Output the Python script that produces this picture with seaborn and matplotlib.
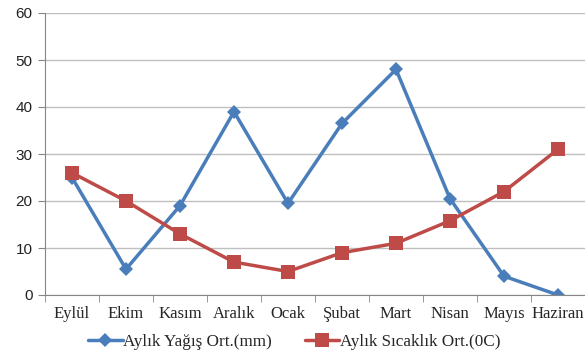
#!/usr/bin/env python3
import matplotlib
matplotlib.use('Agg')
import matplotlib.pyplot as plt
import seaborn as sns
import pandas as pd

# Data
months = ['Eylül', 'Ekim', 'Kasım', 'Aralık', 'Ocak', 'Şubat', 'Mart', 'Nisan', 'Mayıs', 'Haziran']
rain = [25, 5.5, 19, 39, 19.5, 36.5, 48, 20.5, 4, 0]
temp = [26, 20, 13, 7, 5, 9, 11, 15.8, 22, 31]
series_names = ['Aylık Yağış Ort.(mm)', 'Aylık Sıcaklık Ort.(0C)']
y_ticks = [0, 10, 20, 30, 40, 50, 60]


def build_df() -> pd.DataFrame:
    rows = []
    for name, vals in zip(series_names, [rain, temp]):
        for i, (m, v) in enumerate(zip(months, vals)):
            rows.append({'idx': i, 'month': m, 'value': v, 'series': name})
    return pd.DataFrame(rows)


def main():
    df = build_df()
    sns.set_style('white')

    fig = plt.figure(figsize=(5.85, 3.58), dpi=100)
    ax = fig.add_axes([45 / 585, (358 - 295) / 358, 540 / 585, (295 - 13) / 358])

    sns.lineplot(
        data=df, x='idx', y='value', hue='series', style='series',
        palette=['#4A7EBB', '#BE4B48'], markers=['D', 's'], dashes=False,
        markersize=7, linewidth=2.5, markeredgewidth=0, ax=ax, legend=False
    )
    # bigger square markers for temperature
    ax.lines[1].set_markersize(10)

    # Axes limits and ticks
    ax.set_xlim(-0.5, len(months) - 0.5)
    ax.set_ylim(0, 60)
    ax.set_yticks(y_ticks)
    ax.set_yticklabels([str(t) for t in y_ticks], fontsize=11, family='Liberation Sans', color='#222222')
    ax.set_xticks(range(len(months)))
    ax.set_xticklabels(months, fontsize=12, family='Liberation Serif')
    ax.tick_params(axis='x', length=0, pad=8)
    ax.tick_params(axis='y', length=5, color='#868686', pad=4, direction='out', left=True)
    # category separators on x axis
    ax.set_xticks([i - 0.5 for i in range(len(months) + 1)], minor=True)
    ax.tick_params(axis='x', which='minor', length=5, color='#868686', direction='out', bottom=True)
    ax.set_xlabel('')
    ax.set_ylabel('')

    # Grid
    ax.yaxis.grid(True, color='#BFBFBF', linewidth=1)
    ax.set_axisbelow(True)
    for s in ['top', 'right']:
        ax.spines[s].set_visible(False)
    ax.spines['left'].set_color('#868686')
    ax.spines['bottom'].set_color('#868686')

    # Legend
    fig.legend(
        handles=ax.lines[:2], labels=series_names, loc='lower center',
        bbox_to_anchor=(0.503, -0.02), ncol=2, frameon=False,
        prop={'family': 'Liberation Serif', 'size': 12.3},
        handlelength=2.0, handletextpad=0.05, columnspacing=1.9
    )

    fig.savefig('out.png', dpi=100)


if __name__ == '__main__':
    main()
